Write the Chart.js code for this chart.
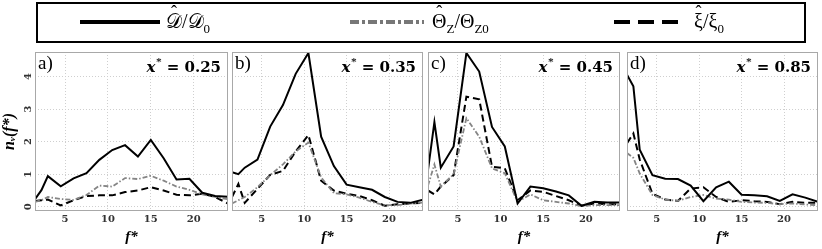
<!DOCTYPE html>
<html>
<head>
<meta charset="utf-8">
<script src="https://cdn.jsdelivr.net/npm/chart.js@4.4.1/dist/chart.umd.min.js"></script>
<style>
  body { margin: 0; width: 822px; height: 249px; background: #fff; position: relative; overflow: hidden; font-family: "Liberation Serif", "DejaVu Serif", serif; }
  #legendBox { position: absolute; left: 36px; top: 2px; width: 766px; height: 37px; border: 2px solid #000; }
  #legendLines { position: absolute; left: 0; top: 0; }
  .lab { position: absolute; top: 9px; font-size: 20px; color: #000; white-space: nowrap; line-height: 24px; filter: grayscale(1); }
  .lab .sb { display: inline-block; position: relative; top: 5px; font-size: 13px; color: #000; }
  .hat { position: relative; display: inline-block; }
  .hat b { position: absolute; left: 0; right: 0; top: -9px; text-align: center; font-weight: normal; font-size: 18px; color: #000; }
  canvas { position: absolute; top: 48px; }
</style>
</head>
<body>
<div id="legendBox"></div>
<svg id="legendLines" width="822" height="45">
  <line x1="80" y1="22" x2="160" y2="22" stroke="#000" stroke-width="4"/>
  <line x1="350" y1="22" x2="424" y2="22" stroke="#777" stroke-width="4" stroke-dasharray="9 3 3 3"/>
  <line x1="614" y1="22" x2="684" y2="22" stroke="#000" stroke-width="4" stroke-dasharray="16 8"/>
</svg>
<div class="lab" style="left:166px"><span class="hat">𝒟<b>ˆ</b></span>/𝒟<span class="sb">0</span></div>
<div class="lab" style="left:432px"><span class="hat">Θ<b>ˆ</b></span><span class="sb">Z</span>/Θ<span class="sb">Z0</span></div>
<div class="lab" style="left:694px"><span class="hat">ξ<b>ˆ</b></span>/ξ<span class="sb">0</span></div>

<canvas id="pa" width="228" height="201" style="left:0px"></canvas>
<canvas id="pb" width="191" height="201" style="left:232px"></canvas>
<canvas id="pc" width="192" height="201" style="left:428px"></canvas>
<canvas id="pd" width="191" height="201" style="left:627px"></canvas>

<script>
// frequency grid f*
const freq = [1.5, 2.25, 3, 4.5, 6, 7.5, 9, 10.5, 12, 13.5, 15, 16.5, 18, 19.5, 21, 22.5, 24];
const xTicks = [5, 10, 15, 20];
const yTicks = [0, 1, 2, 3, 4];

// a) x* = 0.25
const dA = [0.23, 0.51, 0.94, 0.63, 0.87, 1.03, 1.44, 1.74, 1.89, 1.54, 2.05, 1.49, 0.84, 0.86, 0.43, 0.33, 0.31];
const thA = [0.15, 0.2, 0.3, 0.24, 0.21, 0.36, 0.65, 0.62, 0.88, 0.85, 0.95, 0.8, 0.62, 0.52, 0.38, 0.3, 0.23];
const xiA = [0.18, 0.2, 0.22, 0.04, 0.2, 0.33, 0.35, 0.35, 0.45, 0.5, 0.6, 0.5, 0.37, 0.35, 0.4, 0.3, 0.1];

// b) x* = 0.35
const dB = [1.06, 1.0, 1.2, 1.45, 2.46, 3.12, 4.08, 4.72, 2.15, 1.25, 0.68, 0.6, 0.52, 0.3, 0.15, 0.12, 0.22];
const thB = [0.1, 0.2, 0.3, 0.6, 0.97, 1.3, 1.7, 1.97, 0.9, 0.42, 0.38, 0.28, 0.15, 0.05, 0.05, 0.1, 0.13];
const xiB = [0.3, 0.7, 0.12, 0.55, 0.98, 1.1, 1.7, 2.2, 0.8, 0.5, 0.4, 0.33, 0.2, 0.03, 0.08, 0.1, 0.12];

// c) x* = 0.45
const dC = [1.13, 2.6, 1.2, 1.85, 4.72, 4.15, 2.45, 1.85, 0.1, 0.62, 0.57, 0.47, 0.35, 0.03, 0.15, 0.13, 0.13];
const thC = [0.65, 1.3, 0.62, 1.0, 2.72, 2.15, 1.18, 1.03, 0.15, 0.38, 0.2, 0.15, 0.1, 0.02, 0.05, 0.05, 0.05];
const xiC = [0.5, 0.38, 0.62, 0.97, 3.38, 3.3, 1.23, 1.18, 0.2, 0.5, 0.46, 0.33, 0.2, 0.03, 0.1, 0.08, 0.08];

// d) x* = 0.85
const dD = [4.05, 3.7, 1.75, 0.97, 0.86, 0.85, 0.65, 0.17, 0.6, 0.77, 0.37, 0.35, 0.32, 0.18, 0.38, 0.28, 0.15];
const thD = [1.65, 1.5, 1.02, 0.36, 0.22, 0.18, 0.3, 0.36, 0.25, 0.22, 0.15, 0.13, 0.12, 0.08, 0.1, 0.07, 0.05];
const xiD = [1.95, 2.25, 1.45, 0.4, 0.22, 0.18, 0.56, 0.6, 0.3, 0.15, 0.2, 0.17, 0.15, 0.08, 0.15, 0.12, 0.12];

const tickFont = { family: "DejaVu Serif", weight: "bold", size: 10 };

// frame + panel tag + x* label
const panelText = {
    id: "panelText",
    afterDraw(chart, args, opts) {
        const { ctx, chartArea: a } = chart;
        ctx.save();
        ctx.strokeStyle = "#a8a8a8";
        ctx.lineWidth = 1;
        ctx.strokeRect(a.left + 0.5, a.top + 0.5, a.right - a.left - 1, a.bottom - a.top - 1);
        ctx.fillStyle = "#000";
        ctx.textBaseline = "alphabetic";
        ctx.textAlign = "left";
        ctx.font = '19px "Liberation Serif"';
        ctx.fillText(opts.tag, a.left + 3, a.top + 17);
        ctx.textAlign = "right";
        ctx.font = 'bold 15px "DejaVu Serif"';
        const rest = " = " + opts.pos;
        const rw = ctx.measureText(rest).width;
        const xr = a.right - 7;
        ctx.fillText(rest, xr, a.top + 20);
        ctx.font = 'bold 10px "DejaVu Serif"';
        ctx.fillText("*", xr - rw, a.top + 13);
        ctx.font = 'italic bold 15px "DejaVu Serif"';
        ctx.fillText("x", xr - rw - 6, a.top + 20);
        ctx.restore();
    }
};

function makePanel(id, d, th, xi, tag, pos, first) {
    const ctx = document.getElementById(id).getContext("2d");
    return new Chart(ctx, {
        type: "line",
        data: {
            datasets: [
                { data: freq.map((f, i) => ({ x: f, y: d[i] })), borderColor: "#000", borderWidth: 2 },
                { data: freq.map((f, i) => ({ x: f, y: th[i] })), borderColor: "#858585", borderWidth: 1.8, borderDash: [5, 2, 1.5, 2] },
                { data: freq.map((f, i) => ({ x: f, y: xi[i] })), borderColor: "#000", borderWidth: 2, borderDash: [7, 4] }
            ]
        },
        options: {
            responsive: false,
            animation: false,
            layout: { padding: { top: 4, left: 0, right: 0, bottom: 0 } },
            elements: { point: { radius: 0 }, line: { tension: 0, fill: false } },
            plugins: { legend: { display: false }, tooltip: { enabled: false }, panelText: { tag: tag, pos: pos } },
            scales: {
                x: {
                    type: "linear",
                    min: 1.5,
                    max: 24,
                    afterBuildTicks: s => { s.ticks = xTicks.map(v => ({ value: v })); },
                    afterFit: s => { s.height = 38; s.paddingLeft = 0; s.paddingRight = 0; },
                    grid: { color: "#cfcfcf", lineWidth: 1, drawTicks: false },
                    border: { display: false, dash: [1, 2] },
                    ticks: { font: tickFont, color: "#333", padding: 2, maxRotation: 0 },
                    title: { display: true, text: "f*", color: "#000", padding: { top: 0, bottom: 3 },
                        font: { family: "Liberation Serif", style: "italic", weight: "bold", size: 15 } }
                },
                y: {
                    min: -0.13,
                    max: 4.75,
                    afterBuildTicks: s => { s.ticks = yTicks.map(v => ({ value: v })); },
                    afterFit: s => { s.width = first ? 35 : 0; s.paddingTop = 0; s.paddingBottom = 0; },
                    grid: { color: "#cfcfcf", lineWidth: 1, drawTicks: false },
                    border: { display: false, dash: [1, 2] },
                    ticks: { display: first, font: tickFont, color: "#333", padding: 3, minRotation: 90, maxRotation: 90, crossAlign: "center" },
                    title: { display: first, text: "nᵥ(f*)", color: "#000", padding: 0,
                        font: { family: "Liberation Serif", style: "italic", weight: "bold", size: 16 } }
                }
            }
        },
        plugins: [panelText]
    });
}

makePanel("pa", dA, thA, xiA, "a)", "0.25", true);
makePanel("pb", dB, thB, xiB, "b)", "0.35", false);
makePanel("pc", dC, thC, xiC, "c)", "0.45", false);
makePanel("pd", dD, thD, xiD, "d)", "0.85", false);
</script>
</body>
</html>
